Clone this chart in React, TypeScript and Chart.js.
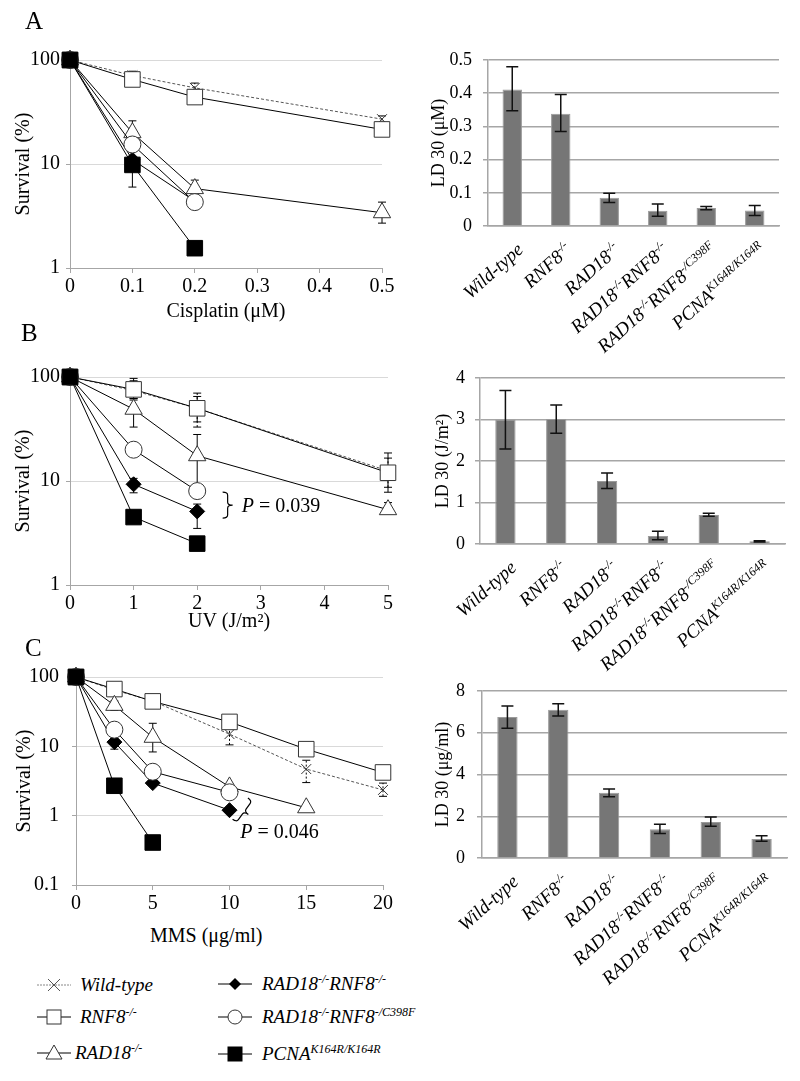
import React, { useEffect, useRef } from "react";
import { Chart, registerables } from "chart.js";

Chart.register(...registerables);

const FONT = "'Liberation Serif', 'Times New Roman', Times, serif";
Chart.defaults.font.family = FONT;
Chart.defaults.color = "#000";

// ---------------- Strains / categories ----------------
const strains = [
  "Wild-type",
  "RNF8^{-/-}",
  "RAD18^{-/-}",
  "RAD18^{-/-}RNF8^{-/-}",
  "RAD18^{-/-}RNF8^{-/C398F}",
  "PCNA^{K164R/K164R}",
];

// ---------------- A: Cisplatin survival ----------------
const cisDose = [0, 0.1, 0.2, 0.5];
const cisWT = [100, 71, 54, 27];
const cisWTLo = [null, 64, 49, 24];
const cisWTHi = [null, 78, 60, 29];
const cisRNF8 = [100, 65, 44, 21.5];
const cisRAD18 = [100, 20, 5.8, 3.4];
const cisRAD18Lo = [null, 15, 5.0, 2.7];
const cisRAD18Hi = [null, 26, 7.0, 4.3];
const cisDKO = [100, 11, 4.4];
const cisC398F = [100, 15.4, 4.3];
const cisPCNA = [100, 9.8, 1.55];
const cisPCNALo = [null, 6, 1.4];
const cisPCNAHi = [null, 11.8, 1.7];

// ---------------- B: UV survival ----------------
const uvDose = [0, 1, 2, 5];
const uvWT = [100, 74, 50, 12.5];
const uvWTLo = [null, 60, 33, 8.7];
const uvWTHi = [null, 92, 70, 16.6];
const uvRNF8 = [100, 76, 50, 12];
const uvRNF8Lo = [null, 62, 37, 7.8];
const uvRNF8Hi = [null, 97, 65, 18.6];
const uvRAD18 = [100, 49, 17.5, 5.3];
const uvRAD18Lo = [null, 33, 8.5, 5.0];
const uvRAD18Hi = [null, 62, 28, 6.2];
const uvDKO = [100, 9.3, 5.1];
const uvDKOLo = [null, 7.7, 3.5];
const uvDKOHi = [null, 10.6, 6];
const uvC398F = [100, 20, 8];
const uvPCNA = [100, 4.5, 2.5];

// ---------------- C: MMS survival ----------------
const mmsDose = [0, 2.5, 5, 10, 15, 20];
const mmsWT = [100, 65, 45, 15, 4.7, 2.35];
const mmsWTLo = [null, null, null, 10.5, 3.0, 1.9];
const mmsWTHi = [null, null, null, 20, 6.3, 2.95];
const mmsRNF8 = [100, 67, 44.5, 22.5, 9.1, 4.2];
const mmsRAD18 = [100, 39, 13.5, 2.6, 1.3];
const mmsRAD18Lo = [null, 33, 8.3, null, null];
const mmsRAD18Hi = [null, 45, 21.5, null, null];
const mmsDKO = [100, 11.5, 2.95, 1.2];
const mmsDKOLo = [null, 9.1, null, null];
const mmsDKOHi = [null, 12.5, null, null];
const mmsC398F = [100, 17.4, 4.3, 2.17];
const mmsC398FLo = [null, null, null, null];
const mmsC398FHi = [null, 22, null, null];
const mmsPCNA = [100, 2.7, 0.41];

// ---------------- LD30 bar values ----------------
const ldCis = [0.411, 0.338, 0.085, 0.046, 0.054, 0.047];
const ldCisLo = [0.347, 0.285, 0.071, 0.029, 0.049, 0.032];
const ldCisHi = [0.48, 0.396, 0.099, 0.066, 0.059, 0.062];
const ldUV = [3.0, 3.01, 1.52, 0.19, 0.7, 0.064];
const ldUVLo = [2.29, 2.67, 1.34, 0.1, 0.67, 0.05];
const ldUVHi = [3.7, 3.35, 1.71, 0.305, 0.74, 0.08];
const ldMMS = [6.75, 7.1, 3.12, 1.38, 1.73, 0.91];
const ldMMSLo = [6.22, 6.8, 2.93, 1.17, 1.52, 0.8];
const ldMMSHi = [7.28, 7.39, 3.31, 1.62, 1.97, 1.06];

// ---------------- tick values ----------------
const survTicksAB = [1, 10, 100];
const survTicksC = [0.1, 1, 10, 100];

// ---------------- helpers ----------------
type Seg = { t: string; sup: boolean };
function parseLabel(s: string): Seg[] {
  const out: Seg[] = [];
  const re = /\^\{([^}]*)\}/g;
  let last = 0;
  let m: RegExpExecArray | null;
  while ((m = re.exec(s))) {
    if (m.index > last) out.push({ t: s.slice(last, m.index), sup: false });
    out.push({ t: m[1], sup: true });
    last = m.index + m[0].length;
  }
  if (last < s.length) out.push({ t: s.slice(last), sup: false });
  return out;
}

const seriesStyle: Record<string, any> = {
  wt: {
    pointStyle: "crossRot", pointRadius: 7, borderColor: "#555", borderDash: [3, 2], borderWidth: 1,
    pointBorderColor: "#333", pointBackgroundColor: "#333", pointBorderWidth: 1, order: 5, errDash: [2, 2],
  },
  rnf8: {
    pointStyle: "rect", pointRadius: 11, borderColor: "#000", borderWidth: 1,
    pointBorderColor: "#333", pointBackgroundColor: "#fff", pointBorderWidth: 1, order: 4,
  },
  rad18: {
    pointStyle: "triangle", pointRadius: 10, borderColor: "#000", borderWidth: 1,
    pointBorderColor: "#333", pointBackgroundColor: "#fff", pointBorderWidth: 1, order: 3,
  },
  dko: {
    pointStyle: "rectRot", pointRadius: 7.5, borderColor: "#000", borderWidth: 1,
    pointBorderColor: "#000", pointBackgroundColor: "#000", pointBorderWidth: 1, order: 2,
  },
  c398f: {
    pointStyle: "circle", pointRadius: 8.5, borderColor: "#000", borderWidth: 1,
    pointBorderColor: "#333", pointBackgroundColor: "#fff", pointBorderWidth: 1, order: 1,
  },
  pcna: {
    pointStyle: "rect", pointRadius: 11, borderColor: "#000", borderWidth: 1,
    pointBorderColor: "#000", pointBackgroundColor: "#000", pointBorderWidth: 1, order: 0,
  },
};

function lineSet(label: string, key: string, xs: number[], ys: (number | null)[], lo?: (number | null)[], hi?: (number | null)[]) {
  const data: any[] = [];
  ys.forEach((y, i) => {
    if (y == null) return;
    data.push({ x: xs[i], y, lo: lo ? lo[i] : null, hi: hi ? hi[i] : null });
  });
  return { label, data, tension: 0, clip: false, ...seriesStyle[key] };
}

const lineErrPlugin = {
  id: "lineErr",
  beforeDatasetsDraw(chart: any) {
    const { ctx } = chart;
    const xs = chart.scales.x;
    const ys = chart.scales.y;
    chart.data.datasets.forEach((ds: any) => {
      ds.data.forEach((p: any) => {
        if (p.lo == null && p.hi == null) return;
        const x = xs.getPixelForValue(p.x);
        const yLo = ys.getPixelForValue(p.lo != null ? p.lo : p.y);
        const yHi = ys.getPixelForValue(p.hi != null ? p.hi : p.y);
        ctx.save();
        ctx.strokeStyle = "#000";
        ctx.lineWidth = 1;
        ctx.setLineDash(ds.errDash || []);
        ctx.beginPath();
        ctx.moveTo(x, yLo);
        ctx.lineTo(x, yHi);
        ctx.stroke();
        ctx.setLineDash([]);
        ctx.beginPath();
        if (p.lo != null) { ctx.moveTo(x - 4, yLo); ctx.lineTo(x + 4, yLo); }
        if (p.hi != null) { ctx.moveTo(x - 4, yHi); ctx.lineTo(x + 4, yHi); }
        ctx.stroke();
        ctx.restore();
      });
    });
  },
};

function drawBrace(ctx: CanvasRenderingContext2D, p1: any, p2: any, w: number, tip: number) {
  const dx = p2.x - p1.x, dy = p2.y - p1.y;
  const len = Math.hypot(dx, dy);
  const d = { x: dx / len, y: dy / len };
  const n = { x: d.y, y: -d.x };
  const r = 3;
  const P = (b: any, a: number, k: number) => ({ x: b.x + n.x * a + d.x * k, y: b.y + n.y * a + d.y * k });
  const m = { x: (p1.x + p2.x) / 2, y: (p1.y + p2.y) / 2 };
  ctx.beginPath();
  ctx.moveTo(p1.x, p1.y);
  let c = P(p1, w, 0), e = P(p1, w, r);
  ctx.quadraticCurveTo(c.x, c.y, e.x, e.y);
  e = P(m, w, -r); ctx.lineTo(e.x, e.y);
  c = P(m, w, 0); e = P(m, w + tip, 0);
  ctx.quadraticCurveTo(c.x, c.y, e.x, e.y);
  e = P(m, w, r);
  ctx.quadraticCurveTo(c.x, c.y, e.x, e.y);
  e = P(p2, w, -r); ctx.lineTo(e.x, e.y);
  c = P(p2, w, 0);
  ctx.quadraticCurveTo(c.x, c.y, p2.x, p2.y);
  ctx.stroke();
}

const pvalPlugin = {
  id: "pval",
  afterDatasetsDraw(chart: any, _a: any, o: any) {
    if (!o || !o.text) return;
    const { ctx } = chart;
    const xs = chart.scales.x, ys = chart.scales.y;
    const p1 = { x: xs.getPixelForValue(o.x1), y: ys.getPixelForValue(o.y1) };
    const p2 = { x: xs.getPixelForValue(o.x2), y: ys.getPixelForValue(o.y2) };
    ctx.save();
    ctx.strokeStyle = "#000";
    ctx.lineWidth = 1.2;
    drawBrace(ctx, p1, p2, 5, 5);
    const tx = xs.getPixelForValue(o.tx), ty = ys.getPixelForValue(o.ty);
    ctx.fillStyle = "#000";
    ctx.textBaseline = "middle";
    ctx.textAlign = "left";
    ctx.font = `italic 20px ${FONT}`;
    ctx.fillText("P", tx, ty);
    const w = ctx.measureText("P").width;
    ctx.font = `20px ${FONT}`;
    ctx.fillText(" = " + o.text, tx + w, ty);
    ctx.restore();
  },
};

function lineConfig(p: any): any {
  return {
    type: "line",
    data: { datasets: p.datasets },
    options: {
      responsive: false,
      animation: false,
      layout: { padding: p.padding },
      plugins: { legend: { display: false }, tooltip: { enabled: false }, pval: p.pval || {} },
      scales: {
        x: {
          type: "linear",
          min: p.xMin,
          max: p.xMax,
          ticks: {
            stepSize: p.xStep,
            font: { size: 20 },
            color: "#000",
            padding: 2,
            callback: (v: number) => String(Number(v.toFixed(2))),
          },
          grid: { drawOnChartArea: false, drawTicks: true, tickLength: 5, color: "#a6a6a6" },
          border: { color: "#a6a6a6" },
          title: p.xTitle
            ? { display: true, text: p.xTitle, font: { size: 20 }, color: "#000", padding: { top: 0, bottom: 0 } }
            : { display: false },
          afterFit: (s: any) => { s.height = p.xHeight; },
        },
        y: {
          type: "logarithmic",
          min: p.yMin,
          max: p.yMax,
          afterBuildTicks: (s: any) => { s.ticks = p.yTicks.map((v: number) => ({ value: v, major: true })); },
          ticks: { font: { size: 20 }, color: "#000", padding: p.yTickPad, callback: (v: number) => String(v) },
          grid: { color: "#d9d9d9", lineWidth: 1, drawTicks: true, tickLength: 4, tickColor: "#a6a6a6" },
          border: { color: "#a6a6a6" },
          title: { display: true, text: "Survival (%)", font: { size: 20 }, color: "#000", padding: { top: p.yTitlePad, bottom: 0 } },
          afterFit: (s: any) => { s.width = p.yWidth; },
        },
      },
    },
    plugins: [lineErrPlugin, pvalPlugin],
  };
}

const barErrPlugin = {
  id: "barErr",
  afterDatasetsDraw(chart: any) {
    const { ctx } = chart;
    const ys = chart.scales.y;
    chart.data.datasets.forEach((ds: any, di: number) => {
      const meta = chart.getDatasetMeta(di);
      meta.data.forEach((el: any, i: number) => {
        const x = el.x;
        const yLo = ys.getPixelForValue(ds.errLo[i]);
        const yHi = ys.getPixelForValue(ds.errHi[i]);
        ctx.save();
        ctx.strokeStyle = "#111";
        ctx.lineWidth = 1.5;
        ctx.beginPath();
        ctx.moveTo(x, yLo); ctx.lineTo(x, yHi);
        ctx.moveTo(x - 6, yLo); ctx.lineTo(x + 6, yLo);
        ctx.moveTo(x - 6, yHi); ctx.lineTo(x + 6, yHi);
        ctx.stroke();
        ctx.restore();
      });
    });
  },
};

const rotLabelPlugin = {
  id: "rotLabels",
  afterDraw(chart: any, _a: any, o: any) {
    const { ctx } = chart;
    const xs = chart.scales.x;
    const ang = (o.angle * Math.PI) / 180;
    chart.data.labels.forEach((lab: string, i: number) => {
      const segs = parseLabel(lab);
      const x = xs.getPixelForValue(i) + o.dx;
      const y = xs.top + o.dy;
      ctx.save();
      ctx.translate(x, y);
      ctx.rotate(-ang);
      const fonts = segs.map((s) => `italic ${s.sup ? o.supSize : o.size}px ${FONT}`);
      let total = 0;
      segs.forEach((s, j) => { ctx.font = fonts[j]; total += ctx.measureText(s.t).width; });
      let cx = -total;
      ctx.fillStyle = "#000";
      ctx.textBaseline = "alphabetic";
      ctx.textAlign = "left";
      segs.forEach((s, j) => {
        ctx.font = fonts[j];
        ctx.fillText(s.t, cx, s.sup ? -o.supRise : 0);
        cx += ctx.measureText(s.t).width;
      });
      ctx.restore();
    });
  },
};

function barConfig(p: any): any {
  return {
    type: "bar",
    data: {
      labels: strains,
      datasets: [
        {
          data: p.values,
          errLo: p.lo,
          errHi: p.hi,
          backgroundColor: "#767676",
          borderColor: "#9a9a9a",
          borderWidth: 1,
          barPercentage: 0.4,
          categoryPercentage: 1,
        },
      ],
    },
    options: {
      responsive: false,
      animation: false,
      layout: { padding: p.padding },
      plugins: {
        legend: { display: false },
        tooltip: { enabled: false },
        rotLabels: { angle: 42, dx: 12, dy: 25, size: 19, supSize: 12, supRise: 7 },
      },
      scales: {
        x: {
          grid: { display: false },
          border: { display: true, color: "#a6a6a6", width: 1.5 },
          ticks: { display: false },
          afterFit: (s: any) => { s.height = p.xHeight; },
        },
        y: {
          min: 0,
          max: p.yMax,
          ticks: {
            stepSize: p.yStep,
            font: { size: 18 },
            color: "#000",
            padding: p.yTickPad,
            callback: (v: number) => (p.decimals ? (v === 0 ? "0" : v.toFixed(p.decimals)) : String(v)),
          },
          grid: { color: "#a6a6a6", lineWidth: 1.5, drawTicks: true, tickLength: 5, tickColor: "#a6a6a6" },
          border: { color: "#a6a6a6", width: 1.5 },
          title: { display: true, text: p.yTitle, font: { size: 18 }, color: "#000", padding: { top: p.yTitlePad, bottom: 0 } },
          afterFit: (s: any) => { s.width = p.yWidth; },
        },
      },
    },
    plugins: [barErrPlugin, rotLabelPlugin],
  };
}

function ChartBox({ left, top, width, height, make }: { left: number; top: number; width: number; height: number; make: () => any }) {
  const ref = useRef<HTMLCanvasElement>(null);
  useEffect(() => {
    const chart = new Chart(ref.current as HTMLCanvasElement, make());
    return () => chart.destroy();
  }, []);
  return (
    <div style={{ position: "absolute", left, top, width, height, pointerEvents: "none" }}>
      <canvas ref={ref} width={width} height={height} style={{ display: "block", width, height }} />
    </div>
  );
}

function RichLabel({ text }: { text: string }) {
  return (
    <>
      {parseLabel(text).map((s, i) =>
        s.sup ? (
          <span key={i} style={{ fontSize: 12, position: "relative", top: -7 }}>{s.t}</span>
        ) : (
          <span key={i}>{s.t}</span>
        )
      )}
    </>
  );
}

function LegendSymbol({ kind }: { kind: string }) {
  const c = 17;
  const y = 10;
  let marker: any = null;
  if (kind === "wt")
    marker = (
      <g stroke="#555" strokeWidth={1}>
        <line x1={c - 6} y1={y - 6} x2={c + 6} y2={y + 6} />
        <line x1={c - 6} y1={y + 6} x2={c + 6} y2={y - 6} />
      </g>
    );
  if (kind === "rnf8") marker = <rect x={c - 7} y={y - 7} width={14} height={14} fill="#fff" stroke="#333" />;
  if (kind === "pcna") marker = <rect x={c - 7} y={y - 7} width={14} height={14} fill="#000" stroke="#000" />;
  if (kind === "rad18") marker = <polygon points={`${c},${y - 8} ${c + 8},${y + 6} ${c - 8},${y + 6}`} fill="#fff" stroke="#333" />;
  if (kind === "dko") marker = <polygon points={`${c},${y - 6} ${c + 6},${y} ${c},${y + 6} ${c - 6},${y}`} fill="#000" />;
  if (kind === "c398f") marker = <circle cx={c} cy={y} r={7} fill="#fff" stroke="#333" />;
  return (
    <svg width={34} height={20} style={{ position: "absolute", left: 0, top: -10 }}>
      <line x1={0} y1={y} x2={34} y2={y} stroke={kind === "wt" ? "#888" : "#000"} strokeWidth={1} strokeDasharray={kind === "wt" ? "2 1" : undefined} />
      {marker}
    </svg>
  );
}

const legendItems = [
  { kind: "wt", label: strains[0], x: 37, y: 985, tx: 43 },
  { kind: "rnf8", label: strains[1], x: 37, y: 1017, tx: 43 },
  { kind: "rad18", label: strains[2], x: 37, y: 1053, tx: 38 },
  { kind: "dko", label: strains[3], x: 218, y: 984, tx: 44 },
  { kind: "c398f", label: strains[4], x: 218, y: 1017, tx: 44 },
  { kind: "pcna", label: strains[5], x: 218, y: 1054, tx: 44 },
];

const mmsTitle = "MMS (\u03bcg/ml)";

export default function App() {
  const letter: any = { position: "absolute", fontSize: 25, lineHeight: "25px", fontFamily: FONT, color: "#000" };
  return (
    <div style={{ position: "absolute", left: 0, top: 0, width: 800, height: 1081, background: "#fff", fontFamily: FONT, overflow: "hidden" }}>
      <ChartBox
        left={0} top={0} width={400} height={325}
        make={() =>
          lineConfig({
            datasets: [
              lineSet("Wild-type", "wt", cisDose, cisWT, cisWTLo, cisWTHi),
              lineSet("RNF8", "rnf8", cisDose, cisRNF8),
              lineSet("RAD18", "rad18", cisDose, cisRAD18, cisRAD18Lo, cisRAD18Hi),
              lineSet("RAD18 RNF8", "dko", cisDose, cisDKO),
              lineSet("RAD18 RNF8 C398F", "c398f", cisDose, cisC398F),
              lineSet("PCNA", "pcna", cisDose, cisPCNA, cisPCNALo, cisPCNAHi),
            ],
            xMin: 0, xMax: 0.5, xStep: 0.1, yMin: 1, yMax: 100, yTicks: survTicksAB,
            xTitle: "Cisplatin (\u03bcM)",
            padding: { top: 60, right: 18, bottom: 1, left: 0 },
            yWidth: 70, xHeight: 56, yTickPad: 6, yTitlePad: 12,
          })
        }
      />
      <ChartBox
        left={0} top={330} width={400} height={305}
        make={() =>
          lineConfig({
            datasets: [
              lineSet("Wild-type", "wt", uvDose, uvWT, uvWTLo, uvWTHi),
              lineSet("RNF8", "rnf8", uvDose, uvRNF8, uvRNF8Lo, uvRNF8Hi),
              lineSet("RAD18", "rad18", uvDose, uvRAD18, uvRAD18Lo, uvRAD18Hi),
              lineSet("RAD18 RNF8", "dko", uvDose, uvDKO, uvDKOLo, uvDKOHi),
              lineSet("RAD18 RNF8 C398F", "c398f", uvDose, uvC398F),
              lineSet("PCNA", "pcna", uvDose, uvPCNA),
            ],
            xMin: 0, xMax: 5, xStep: 1, yMin: 1, yMax: 100, yTicks: survTicksAB,
            xTitle: "UV (J/m\u00b2)",
            padding: { top: 47, right: 12, bottom: 1, left: 0 },
            yWidth: 70, xHeight: 49, yTickPad: 6, yTitlePad: 12,
            pval: { x1: 2.4, y1: 7.8, x2: 2.4, y2: 4.4, tx: 2.7, ty: 5.6, text: "0.039" },
          })
        }
      />
      <ChartBox
        left={0} top={640} width={400} height={280}
        make={() =>
          lineConfig({
            datasets: [
              lineSet("Wild-type", "wt", mmsDose, mmsWT, mmsWTLo, mmsWTHi),
              lineSet("RNF8", "rnf8", mmsDose, mmsRNF8),
              lineSet("RAD18", "rad18", mmsDose, mmsRAD18, mmsRAD18Lo, mmsRAD18Hi),
              lineSet("RAD18 RNF8", "dko", mmsDose, mmsDKO, mmsDKOLo, mmsDKOHi),
              lineSet("RAD18 RNF8 C398F", "c398f", mmsDose, mmsC398F, mmsC398FLo, mmsC398FHi),
              lineSet("PCNA", "pcna", mmsDose, mmsPCNA),
            ],
            xMin: 0, xMax: 20, xStep: 5, yMin: 0.1, yMax: 100, yTicks: survTicksC,
            xTitle: null,
            padding: { top: 37, right: 17, bottom: 0, left: 0 },
            yWidth: 76, xHeight: 35, yTickPad: 13, yTitlePad: 13,
            pval: { x1: 11.2, y1: 1.8, x2: 10.2, y2: 0.89, tx: 10.7, ty: 0.56, text: "0.046" },
          })
        }
      />
      <ChartBox
        left={400} top={0} width={400} height={360}
        make={() =>
          barConfig({
            values: ldCis, lo: ldCisLo, hi: ldCisHi, yMax: 0.5, yStep: 0.1, decimals: 1,
            yTitle: "LD 30 (\u03bcM)", padding: { top: 60, right: 21, bottom: 35, left: 0 },
            yWidth: 88, xHeight: 99, yTickPad: 11, yTitlePad: 28,
          })
        }
      />
      <ChartBox
        left={400} top={330} width={400} height={360}
        make={() =>
          barConfig({
            values: ldUV, lo: ldUVLo, hi: ldUVHi, yMax: 4, yStep: 1, decimals: 0,
            yTitle: "LD 30 (J/m\u00b2)", padding: { top: 48, right: 15, bottom: 55, left: 0 },
            yWidth: 80, xHeight: 91, yTickPad: 10, yTitlePad: 32,
          })
        }
      />
      <ChartBox
        left={400} top={640} width={400} height={360}
        make={() =>
          barConfig({
            values: ldMMS, lo: ldMMSLo, hi: ldMMSHi, yMax: 8, yStep: 2, decimals: 0,
            yTitle: "LD 30 (\u03bcg/ml)", padding: { top: 51, right: 13, bottom: 60, left: 0 },
            yWidth: 82, xHeight: 82, yTickPad: 12, yTitlePad: 32,
          })
        }
      />
      <div style={{ ...letter, left: 25, top: 8 }}>A</div>
      <div style={{ ...letter, left: 21, top: 320 }}>B</div>
      <div style={{ ...letter, left: 25, top: 635 }}>C</div>
      <div style={{ position: "absolute", left: 150, top: 923, fontSize: 20, lineHeight: "24px", whiteSpace: "nowrap" }}>{mmsTitle}</div>
      {legendItems.map((it, i) => (
        <div key={i} style={{ position: "absolute", left: it.x, top: it.y, height: 0 }}>
          <LegendSymbol kind={it.kind} />
          <div style={{ position: "absolute", left: it.tx, top: -12, fontSize: 19, lineHeight: "24px", fontStyle: "italic", whiteSpace: "nowrap" }}>
            <RichLabel text={it.label} />
          </div>
        </div>
      ))}
    </div>
  );
}
